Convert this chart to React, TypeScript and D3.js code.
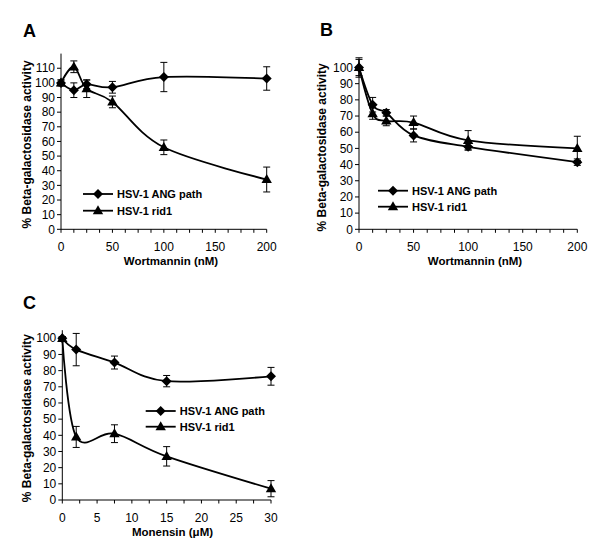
import React from "react";
import * as d3 from "d3";

// ---------- data ----------
const doseAB = [0, 12.5, 25, 50, 100, 200];
const angA = [100, 95, 99, 97, 104, 103];
const angAErr = [2, 5, 3, 4, 10, 8];
const ridA = [100, 111, 96, 87, 56, 34];
const ridAErr = [2, 4, 6, 4, 5, 8.5];

const angB = [100, 77, 72, 58, 51, 41.5];
const angBErr = [5, 4.5, 2, 4, 2, 2];
const ridB = [100, 71.5, 67, 66, 55, 50];
const ridBErr = [6, 3.5, 3, 4, 6, 7.5];

const doseC = [0, 2, 7.5, 15, 30];
const angC = [100, 93, 85, 73.5, 76.5];
const angCErr = [1, 10, 4, 3.5, 5.5];
const ridC = [100, 39, 41, 27, 7];
const ridCErr = [1, 6.5, 5.5, 6, 5];

const xTicksAB = [0, 50, 100, 150, 200];
const xTicksC = [0, 5, 10, 15, 20, 25, 30];
const yTicksA = [0, 10, 20, 30, 40, 50, 60, 70, 80, 90, 100, 110];
const yTicksBC = [0, 10, 20, 30, 40, 50, 60, 70, 80, 90, 100];

const seriesNames = ["HSV-1 ANG path", "HSV-1 rid1"];
const yTitle = "% Beta-galactosidase activity";

const FONT = "'Liberation Sans', Arial, sans-serif";

type Series = { y: number[]; err: number[]; shape: "diamond" | "triangle" };

function Marker({ x, y, shape }: { x: number; y: number; shape: string }) {
  if (shape === "diamond") {
    const r = 5;
    return <path d={`M${x},${y - r}L${x + r},${y}L${x},${y + r}L${x - r},${y}Z`} fill="#000" />;
  }
  const w = 5.2, h = 9;
  return <path d={`M${x},${y - h * 0.6}L${x + w},${y + h * 0.4}L${x - w},${y + h * 0.4}Z`} fill="#000" />;
}

function Panel(props: {
  letter: string;
  letterX: number;
  letterY: number;
  x: number[];
  series: Series[];
  xDomain: [number, number];
  xRange: [number, number];
  yDomain: [number, number];
  yRange: [number, number];
  xTicks: number[];
  minorStep: number;
  yTicks: number[];
  xTitle: string;
  xTitleX: number;
  yTitleX: number;
  legendX: number;
  legendY: number;
  legendGap: number;
}) {
  const xs = d3.scaleLinear().domain(props.xDomain).range(props.xRange);
  const ys = d3.scaleLinear().domain(props.yDomain).range(props.yRange);
  const line = d3
    .line<[number, number]>()
    .x((d) => xs(d[0]))
    .y((d) => ys(d[1]))
    .curve(d3.curveCardinal.tension(0));
  const minor = d3.range(props.xDomain[0], props.xDomain[1] + 1e-6, props.minorStep);
  const y0 = ys(props.yDomain[0]);
  const x0 = xs(props.xDomain[0]);
  const yMid = (props.yRange[0] + props.yRange[1]) / 2 + 3;
  return (
    <g fontFamily={FONT}>
      <text x={props.letterX} y={props.letterY} fontSize={18} fontWeight="bold">
        {props.letter}
      </text>
      {/* axes */}
      <line x1={x0} x2={x0} y1={props.yRange[1]} y2={y0} stroke="#000" strokeWidth={1} />
      <line x1={x0} x2={xs(props.xDomain[1])} y1={y0} y2={y0} stroke="#000" strokeWidth={1} />
      {props.yTicks.map((t) => (
        <g key={"y" + t}>
          <line x1={x0 - 4} x2={x0} y1={ys(t)} y2={ys(t)} stroke="#000" />
          <text x={x0 - 6} y={ys(t) + 4.2} fontSize={12} textAnchor="end">
            {t}
          </text>
        </g>
      ))}
      {minor.map((t) => (
        <line key={"m" + t} x1={xs(t)} x2={xs(t)} y1={y0} y2={y0 + 3.5} stroke="#000" />
      ))}
      {props.xTicks.map((t) => (
        <text key={"x" + t} x={xs(t)} y={y0 + 21.5} fontSize={12} textAnchor="middle">
          {t}
        </text>
      ))}
      <text x={props.xTitleX} y={y0 + 35.5} fontSize={11.5} fontWeight="bold" textAnchor="middle">
        {props.xTitle}
      </text>
      <text
        transform={`translate(${props.yTitleX},${yMid}) rotate(-90)`}
        fontSize={12}
        fontWeight="bold"
        textAnchor="middle"
      >
        {yTitle}
      </text>
      {/* series */}
      {props.series.map((s, si) => {
        const pts = props.x.map((xv, i) => [xv, s.y[i]] as [number, number]);
        return (
          <g key={"s" + si}>
            {props.x.map((xv, i) => {
              const cx = xs(xv);
              const top = ys(s.y[i] + s.err[i]);
              const bot = ys(s.y[i] - s.err[i]);
              return (
                <g key={"e" + i} stroke="#000" strokeWidth={1}>
                  <line x1={cx} x2={cx} y1={top} y2={bot} />
                  <line x1={cx - 3.5} x2={cx + 3.5} y1={top} y2={top} />
                  <line x1={cx - 3.5} x2={cx + 3.5} y1={bot} y2={bot} />
                </g>
              );
            })}
            <path d={line(pts) || ""} fill="none" stroke="#000" strokeWidth={1.8} />
            {pts.map((p, i) => (
              <Marker key={"p" + i} x={xs(p[0])} y={ys(p[1])} shape={s.shape} />
            ))}
          </g>
        );
      })}
      {/* legend */}
      {props.series.map((s, si) => {
        const ly = props.legendY + si * props.legendGap;
        return (
          <g key={"l" + si}>
            <line x1={props.legendX} x2={props.legendX + 30} y1={ly} y2={ly} stroke="#000" strokeWidth={1.8} />
            <Marker x={props.legendX + 15} y={ly} shape={s.shape} />
            <text x={props.legendX + 34} y={ly + 4} fontSize={11} fontWeight="bold">
              {seriesNames[si]}
            </text>
          </g>
        );
      })}
    </g>
  );
}

export default function App() {
  return (
    <svg
      width={596}
      height={550}
      style={{ position: "absolute", left: 0, top: 0, background: "#fff" }}
    >
      <rect width={596} height={550} fill="#fff" />
      <Panel
        letter="A"
        letterX={23}
        letterY={36.5}
        x={doseAB}
        series={[
          { y: angA, err: angAErr, shape: "diamond" },
          { y: ridA, err: ridAErr, shape: "triangle" },
        ]}
        xDomain={[0, 200]}
        xRange={[61, 266.7]}
        yDomain={[0, 120]}
        yRange={[229.3, 53.6]}
        xTicks={xTicksAB}
        minorStep={12.5}
        yTicks={yTicksA}
        xTitle="Wortmannin (nM)"
        xTitleX={171}
        yTitleX={30.5}
        legendX={83}
        legendY={194}
        legendGap={16.7}
      />
      <Panel
        letter="B"
        letterX={320}
        letterY={36}
        x={doseAB}
        series={[
          { y: angB, err: angBErr, shape: "diamond" },
          { y: ridB, err: ridBErr, shape: "triangle" },
        ]}
        xDomain={[0, 200]}
        xRange={[359, 577.3]}
        yDomain={[0, 105]}
        yRange={[229.3, 59.4]}
        xTicks={xTicksAB}
        minorStep={12.5}
        yTicks={yTicksBC}
        xTitle="Wortmannin (nM)"
        xTitleX={475}
        yTitleX={326}
        legendX={378}
        legendY={190.7}
        legendGap={16}
      />
      <Panel
        letter="C"
        letterX={23}
        letterY={309}
        x={doseC}
        series={[
          { y: angC, err: angCErr, shape: "diamond" },
          { y: ridC, err: ridCErr, shape: "triangle" },
        ]}
        xDomain={[0, 30]}
        xRange={[62.3, 271]}
        yDomain={[0, 105]}
        yRange={[500, 330.2]}
        xTicks={xTicksC}
        minorStep={2.5}
        yTicks={yTicksBC}
        xTitle="Monensin (μM)"
        xTitleX={172.5}
        yTitleX={30.5}
        legendX={145.7}
        legendY={411}
        legendGap={15.7}
      />
    </svg>
  );
}
